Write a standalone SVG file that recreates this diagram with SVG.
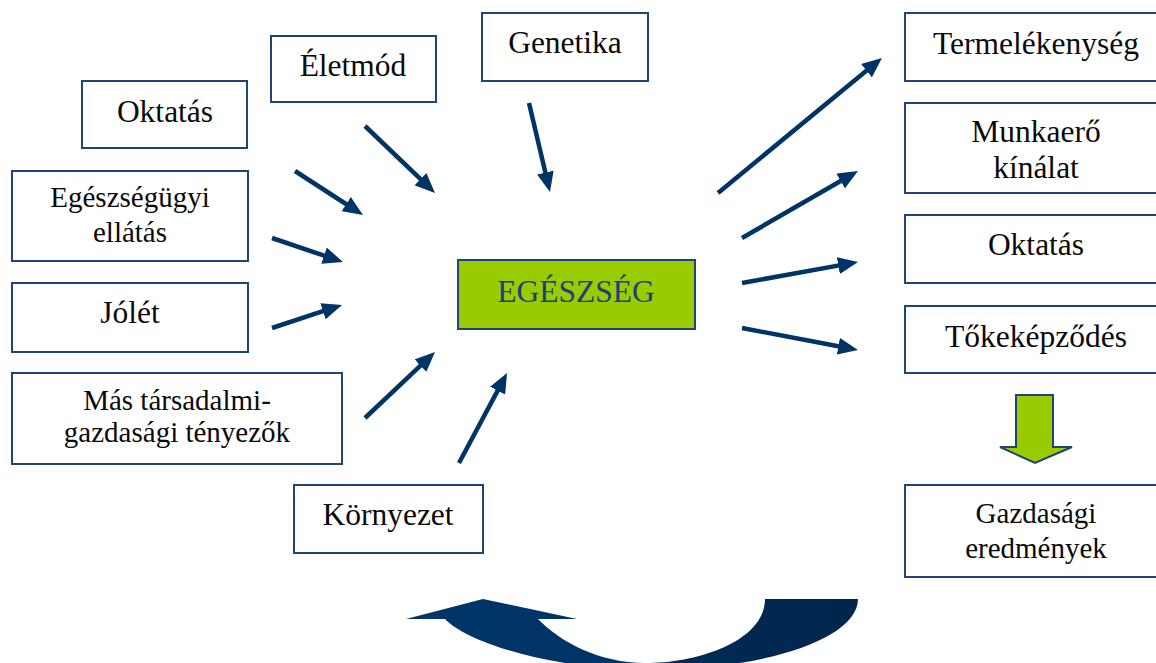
<svg xmlns="http://www.w3.org/2000/svg" width="1156" height="663" viewBox="0 0 1156 663">
<style>
.box{fill:#fff;stroke:#1f4478;stroke-width:2}
.con{stroke:#003366;stroke-width:4.5;fill:none;marker-end:url(#ah)}
</style>
<defs>
<marker id="ah" markerUnits="userSpaceOnUse" markerWidth="20" markerHeight="17" refX="8" refY="8.5" orient="auto">
<path d="M0,0 L20,8.5 L0,17 z" fill="#003366"/>
</marker>
<linearGradient id="cg" x1="0" y1="0" x2="1" y2="0">
<stop offset="0" stop-color="#003669"/>
<stop offset="0.55" stop-color="#003366"/>
<stop offset="0.6" stop-color="#002a55"/>
<stop offset="1" stop-color="#00264d"/>
</linearGradient>
</defs>
<rect width="1156" height="663" fill="#fff"/>

<g font-family="'Liberation Serif', 'Times New Roman', serif" text-anchor="middle" fill="#0a0a0a">
<g id="n-oktatas-l"><rect class="box" x="82" y="81" width="165" height="67"/><text font-size="31.5" x="165" y="122">Oktatás</text></g>
<g id="n-eletmod"><rect class="box" x="271" y="36" width="165" height="66"/><text font-size="31.5" x="353" y="76">Életmód</text></g>
<g id="n-genetika"><rect class="box" x="482" y="13" width="166" height="68"/><text font-size="31.5" x="565" y="53">Genetika</text></g>
<g id="n-egeszsegugyi"><rect class="box" x="12" y="171" width="236" height="90"/><text font-size="29" x="130" y="207">Egészségügyi</text><text font-size="29" x="130" y="242">ellátás</text></g>
<g id="n-jolet"><rect class="box" x="12" y="283" width="236" height="69"/><text font-size="31.5" x="130" y="323">Jólét</text></g>
<g id="n-mas"><rect class="box" x="12" y="373" width="330" height="91"/><text font-size="29" x="177" y="410">Más társadalmi-</text><text font-size="29" x="177" y="442">gazdasági tényezők</text></g>
<g id="n-kornyezet"><rect class="box" x="294" y="485" width="189" height="68"/><text font-size="31.5" x="388" y="525">Környezet</text></g>
<g id="n-egeszseg"><rect x="458" y="260" width="237" height="69" fill="#99cc00" stroke="#1f4478" stroke-width="2"/><text font-size="31.5" fill="#1f3f78" x="576" y="302">EGÉSZSÉG</text></g>
<g id="n-termelekenyseg"><rect class="box" x="905" y="13" width="262" height="68"/><text font-size="31.5" x="1036" y="54">Termelékenység</text></g>
<g id="n-munkaero"><rect class="box" x="905" y="103" width="262" height="90"/><text font-size="31.5" x="1036" y="142">Munkaerő</text><text font-size="31.5" x="1036" y="178">kínálat</text></g>
<g id="n-oktatas-r"><rect class="box" x="905" y="215" width="262" height="68"/><text font-size="31.5" x="1036" y="255">Oktatás</text></g>
<g id="n-tokekepzodes"><rect class="box" x="905" y="306" width="262" height="67"/><text font-size="31.5" x="1036" y="347">Tőkeképződés</text></g>
<g id="n-gazdasagi"><rect class="box" x="905" y="485" width="262" height="92"/><text font-size="29" x="1036" y="523">Gazdasági</text><text font-size="29" x="1036" y="558">eredmények</text></g>
</g>

<g id="connectors">
<line class="con" x1="295" y1="171" x2="352.9" y2="208.5"/>
<line class="con" x1="272" y1="238" x2="331.6" y2="258.2"/>
<line class="con" x1="272" y1="328" x2="330.6" y2="308.7"/>
<line class="con" x1="365" y1="126" x2="426.3" y2="184.7"/>
<line class="con" x1="529" y1="103" x2="547.2" y2="180.3"/>
<line class="con" x1="365" y1="418" x2="426.3" y2="360.2"/>
<line class="con" x1="459" y1="463" x2="501.4" y2="383.6"/>
<line class="con" x1="718" y1="193" x2="872.7" y2="65.6"/>
<line class="con" x1="742" y1="238" x2="847.6" y2="177"/>
<line class="con" x1="742" y1="283" x2="846.2" y2="264.1"/>
<line class="con" x1="742" y1="328" x2="846.2" y2="347.8"/>
<polygon id="down-arrow" points="1016,395 1053,395 1053,447 1072,447 1035,463 1000,447 1016,447" fill="#99cc00" stroke="#1f4478" stroke-width="2"/>
<path id="cycle-arrow" d="M858,599 C858,640 760,670 650,670 C560,670 470,645 445,619 L406,619 L483,599 L577,619 L538,619 C560,642 600,663 645,663 C700,663 765,640 765,599 Z" fill="url(#cg)"/>
</g>
</svg>
